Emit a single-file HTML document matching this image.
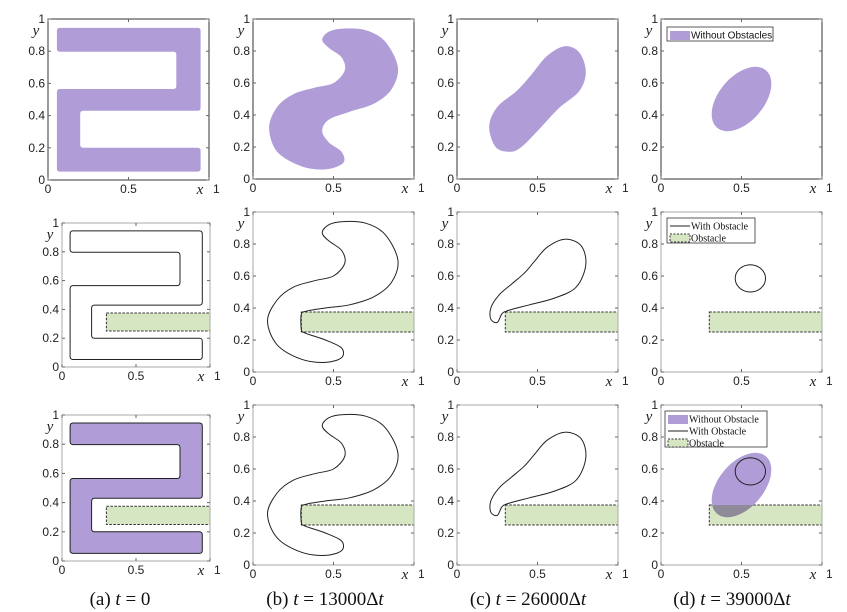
<!DOCTYPE html>
<html><head><meta charset="utf-8">
<style>
html,body{margin:0;padding:0;background:#fff;}
svg{display:block;}
.tk{font-family:"Liberation Sans",sans-serif;font-size:12px;fill:#222;}
.ax{font-family:"Liberation Serif",serif;font-style:italic;font-size:15px;fill:#222;}
.cap{font-family:"Liberation Serif",serif;font-size:19px;fill:#111;}
</style></head>
<body>
<svg id="fig" width="847" height="612" viewBox="0 0 847 612" xmlns="http://www.w3.org/2000/svg"></svg>
<script>
// ---- data (domain coordinates, 0..1) ----
const shapeT0 = [[0.055,0.945],[0.948,0.945],[0.948,0.43],[0.2,0.43],[0.2,0.2],[0.948,0.2],[0.948,0.052],[0.055,0.052],[0.055,0.565],[0.797,0.565],[0.797,0.797],[0.055,0.797]];
const shapeT13 = [[0.56,0.94],[0.7,0.93],[0.82,0.86],[0.9,0.7],[0.86,0.56],[0.75,0.47],[0.6,0.42],[0.47,0.37],[0.43,0.3],[0.47,0.23],[0.55,0.17],[0.56,0.1],[0.45,0.06],[0.3,0.08],[0.15,0.17],[0.1,0.32],[0.15,0.45],[0.25,0.53],[0.38,0.57],[0.5,0.6],[0.57,0.68],[0.55,0.76],[0.47,0.82],[0.43,0.87],[0.47,0.92]];
const shapeT13obs = [[0.56,0.94],[0.7,0.93],[0.82,0.86],[0.9,0.7],[0.86,0.56],[0.75,0.47],[0.6,0.42],[0.45,0.4],[0.33,0.38],[0.3,0.36],[0.3,0.27],[0.32,0.245],[0.45,0.2],[0.55,0.15],[0.55,0.09],[0.45,0.06],[0.3,0.08],[0.15,0.17],[0.09,0.32],[0.15,0.45],[0.25,0.53],[0.38,0.57],[0.5,0.6],[0.57,0.68],[0.55,0.76],[0.47,0.82],[0.43,0.87],[0.47,0.92]];
const shapeT26 = [[0.67,0.83],[0.76,0.79],[0.8,0.67],[0.76,0.55],[0.63,0.44],[0.5,0.3],[0.4,0.2],[0.33,0.17],[0.24,0.2],[0.2,0.33],[0.25,0.45],[0.37,0.55],[0.46,0.65],[0.56,0.77]];
const shapeT26obs = [[0.67,0.83],[0.77,0.79],[0.8,0.67],[0.74,0.53],[0.6,0.46],[0.45,0.42],[0.32,0.385],[0.28,0.365],[0.25,0.31],[0.21,0.33],[0.21,0.4],[0.26,0.48],[0.34,0.55],[0.42,0.62],[0.48,0.69],[0.56,0.78]];
const ellipseT39 = {cx:0.5, cy:0.5, rx:0.235, ry:0.14, angle:50};
const circleT39obs = {cx:0.555, cy:0.585, rx:0.094, ry:0.085, angle:0};
const obstacle = {x0:0.3, x1:1.0, y0:0.25, y1:0.375};
const yTicks = [0,0.2,0.4,0.6,0.8,1];
const yTickLabels = ["0","0.2","0.4","0.6","0.8","1"];
const xTicks = [0,0.5,1];
const xTickLabels = ["0","0.5","1"];
const captions = ["(a) ","(b) ","(c) ","(d) "];
const captionTimes = ["0","13000\u0394","26000\u0394","39000\u0394"];

const NS="http://www.w3.org/2000/svg";
const svg=document.getElementById('fig');
function mk(tag,attrs,parent){const e=document.createElementNS(NS,tag);for(const k in attrs)e.setAttribute(k,attrs[k]);(parent||svg).appendChild(e);return e;}

function smoothPath(pts,sx,sy){
  const P=pts.map(p=>[sx(p[0]),sy(p[1])]);const n=P.length;let d=`M${P[0][0]},${P[0][1]}`;
  for(let i=0;i<n;i++){const p0=P[(i-1+n)%n],p1=P[i],p2=P[(i+1)%n],p3=P[(i+2)%n];
    const c1=[p1[0]+(p2[0]-p0[0])/6,p1[1]+(p2[1]-p0[1])/6],c2=[p2[0]-(p3[0]-p1[0])/6,p2[1]-(p3[1]-p1[1])/6];
    d+=`C${c1[0].toFixed(1)},${c1[1].toFixed(1)} ${c2[0].toFixed(1)},${c2[1].toFixed(1)} ${p2[0].toFixed(1)},${p2[1].toFixed(1)}`;}
  return d+'Z';
}
function roundPoly(pts,sx,sy,r){
  const P=pts.map(p=>[sx(p[0]),sy(p[1])]);const n=P.length;let d='';
  for(let i=0;i<n;i++){const a=P[(i-1+n)%n],b=P[i],c=P[(i+1)%n];
    const v1=[a[0]-b[0],a[1]-b[1]],v2=[c[0]-b[0],c[1]-b[1]];
    const l1=Math.hypot(...v1),l2=Math.hypot(...v2);
    const s=[b[0]+v1[0]/l1*r,b[1]+v1[1]/l1*r],e=[b[0]+v2[0]/l2*r,b[1]+v2[1]/l2*r];
    d+=(i?'L':'M')+s[0].toFixed(1)+','+s[1].toFixed(1)+'Q'+b[0]+','+b[1]+' '+e[0].toFixed(1)+','+e[1].toFixed(1);}
  return d+'Z';
}
function ellipsePath(el,sx,sy){
  const pts=[];const a=el.angle*Math.PI/180;
  for(let i=0;i<72;i++){const t=i/72*2*Math.PI;const u=el.rx*Math.cos(t),v=el.ry*Math.sin(t);
    pts.push([el.cx+u*Math.cos(a)-v*Math.sin(a), el.cy+u*Math.sin(a)+v*Math.cos(a)]);}
  return 'M'+pts.map(p=>sx(p[0]).toFixed(1)+','+sy(p[1]).toFixed(1)).join('L')+'Z';
}

const colX=[253,457,661], W=161, H=160, rowY=[19,212,405];
const panels=[];
panels.push({c:0,r:0,x:48,y:19,w:161,h:161});
panels.push({c:0,r:1,x:62,y:223,w:148,h:144});
panels.push({c:0,r:2,x:62,y:415,w:148,h:146});
for(let c=1;c<4;c++)for(let r=0;r<3;r++)panels.push({c,r,x:colX[c-1],y:rowY[r],w:W,h:H});

const PURPLE='#b09dd8', GREEN='#d6e6c3';
let clipId=0;
panels.forEach(p=>{
  const g=mk('g',{});
  
  
  const sx=v=>p.x+v*p.w, sy=v=>p.y+p.h-v*p.h;
  const dark=p.r===0;
  mk('rect',{x:p.x,y:p.y,width:p.w,height:p.h,fill:'#fff'},g);
  const cid='clip'+(clipId++);
  const cp=mk('clipPath',{id:cid},g);mk('rect',{x:p.x,y:p.y,width:p.w,height:p.h},cp);
  const plot=mk('g',{'clip-path':`url(#${cid})`},g);
  const hasObs=p.r>0;
  if(hasObs){
    const o=mk('rect',{x:sx(obstacle.x0),y:sy(obstacle.y1),width:sx(obstacle.x1)-sx(obstacle.x0),height:sy(obstacle.y0)-sy(obstacle.y1),fill:GREEN,stroke:'#333','stroke-width':1,'stroke-dasharray':'2.5,1.5'},plot);
    
    
  }
  let d=null, fill='none', stroke='none';
  if(p.c===0){d=roundPoly(shapeT0,sx,sy,3); if(p.r===0){fill=PURPLE;} else if(p.r===1){stroke='#222';} else {fill=PURPLE;stroke='#222';}}
  if(p.c===1){ if(p.r===0){d=smoothPath(shapeT13,sx,sy);fill=PURPLE;} else {d=smoothPath(shapeT13obs,sx,sy);stroke='#222';}}
  if(p.c===2){ if(p.r===0){d=smoothPath(shapeT26,sx,sy);fill=PURPLE;} else {d=smoothPath(shapeT26obs,sx,sy);stroke='#222';}}
  if(p.c===3){
    if(p.r!==1){
      const e=mk('path',{d:ellipsePath(ellipseT39,sx,sy),fill:PURPLE},plot);
      
      
      if(p.r===2){
        const cid2='oc'+(clipId++);const cp2=mk('clipPath',{id:cid2},g);
        mk('rect',{x:sx(obstacle.x0),y:sy(obstacle.y1),width:sx(obstacle.x1)-sx(obstacle.x0),height:sy(obstacle.y0)-sy(obstacle.y1)},cp2);
        mk('path',{d:ellipsePath(ellipseT39,sx,sy),fill:'#8e8a98','clip-path':`url(#${cid2})`},plot);
      }
    }
    if(p.r>0){d=ellipsePath(circleT39obs,sx,sy);stroke='#222';}
  }
  if(d){const s=mk('path',{d,fill,stroke,'stroke-width':stroke==='none'?0:1},plot);
    
    }
  mk('rect',{x:p.x,y:p.y,width:p.w,height:p.h,fill:'none',stroke:dark?'#333':'#aaa','stroke-width':1},g);
  yTicks.forEach((t,i)=>{
    mk('line',{x1:p.x,x2:p.x+3,y1:sy(t),y2:sy(t),stroke:'#666'},g);
    mk('line',{x1:p.x+p.w-3,x2:p.x+p.w,y1:sy(t),y2:sy(t),stroke:'#666'},g);
    const tl=mk('text',{x:p.x-3,y:sy(t)+4,'text-anchor':'end',class:'tk'},g);tl.textContent=yTickLabels[i];
    
    
  });
  xTicks.forEach((t,i)=>{
    mk('line',{x1:sx(t),x2:sx(t),y1:p.y+p.h,y2:p.y+p.h-3,stroke:'#666'},g);
    mk('line',{x1:sx(t),x2:sx(t),y1:p.y,y2:p.y+3,stroke:'#666'},g);
    const tl=mk('text',{x:i===2?sx(t)+4:sx(t),y:p.y+p.h+13,'text-anchor':i===2?'start':'middle',class:'tk'},g);tl.textContent=xTickLabels[i];
    
    
  });
  const yl=mk('text',{x:p.x-12,y:p.y+16,'text-anchor':'middle',class:'ax'},g);yl.textContent='y';
  
  
  const xl=mk('text',{x:p.x+p.w-9,y:p.y+p.h+14,'text-anchor':'middle',class:'ax'},g);xl.textContent='x';
  
  
});

function legend(x,y,w,h,items,font){
  const g=mk('g',{});
  
  
  mk('rect',{x,y,width:w,height:h,fill:'#fff',stroke:'#333','stroke-width':0.8},g);
  items.forEach((it,i)=>{
    const cy=y+2+i*12+6;
    if(it.t==='fill')mk('rect',{x:x+3,y:cy-4,width:20,height:9,fill:PURPLE},g);
    if(it.t==='line')mk('line',{x1:x+3,x2:x+23,y1:cy,y2:cy,stroke:'#222'},g);
    if(it.t==='obs')mk('rect',{x:x+3,y:cy-4,width:20,height:8,fill:GREEN,stroke:'#333','stroke-dasharray':'2,1.5'},g);
    const tx=mk('text',{x:x+24,y:cy+3.5,style:`font-family:${font};font-size:10px;fill:#111`},g);tx.textContent=it.label;
    
    
  });
}
legend(667,27,106,14,[{t:'fill',label:'Without Obstacles'}],'"Liberation Sans",sans-serif');
legend(667,218,88,25,[{t:'line',label:'With Obstacle'},{t:'obs',label:'Obstacle'}],'"Liberation Serif",serif');
legend(665,411,102,36,[{t:'fill',label:'Without Obstacle'},{t:'line',label:'With Obstacle'},{t:'obs',label:'Obstacle'}],'"Liberation Serif",serif');

const capX=[120,325,528,732];
captions.forEach((c,i)=>{
  const t=mk('text',{x:capX[i],y:605,'text-anchor':'middle',class:'cap'});
  
  
  t.appendChild(document.createTextNode(c));
  const it=mk('tspan',{'font-style':'italic'},t);it.textContent='t';
  t.appendChild(document.createTextNode(' = '+captionTimes[i]));
  if(i>0){const it2=mk('tspan',{'font-style':'italic'},t);it2.textContent='t';}
});
</script>
</body></html>
